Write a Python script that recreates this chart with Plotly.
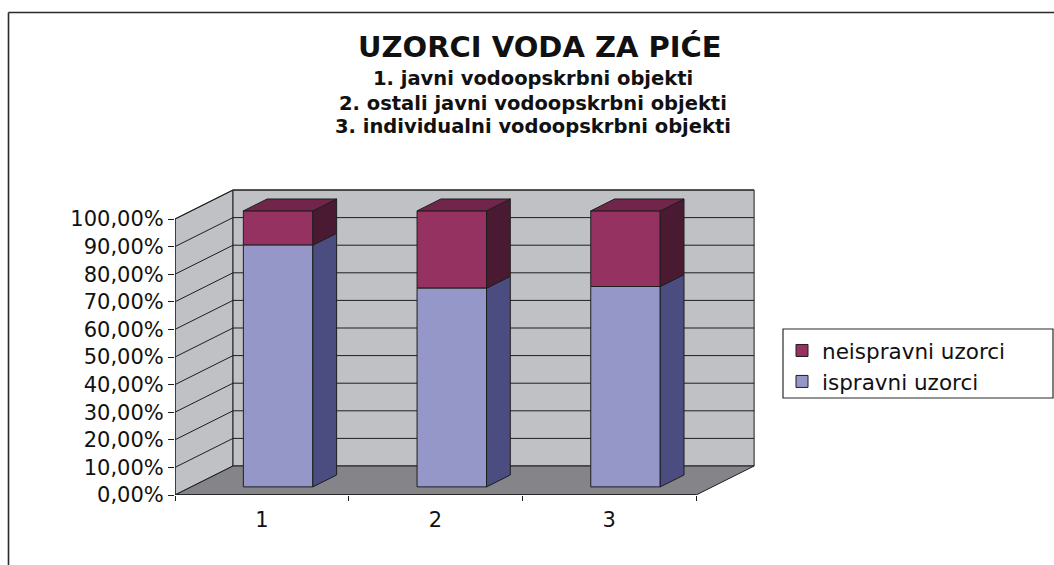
import plotly.graph_objects as go

# ---------------- data ----------------
CATEGORIES = [1, 2, 3]
CATEGORY_LABELS = ["1", "2", "3"]
ISPRAVNI = [87.6, 72.0, 72.6]        # % ispravni uzorci
NEISPRAVNI = [12.4, 28.0, 27.4]      # % neispravni uzorci
SERIES_NAMES = ["ispravni uzorci", "neispravni uzorci"]
Y_TICKS = [0, 10, 20, 30, 40, 50, 60, 70, 80, 90, 100]
Y_TICK_LABELS = ["0,00%", "10,00%", "20,00%", "30,00%", "40,00%", "50,00%",
                 "60,00%", "70,00%", "80,00%", "90,00%", "100,00%"]
TITLE = "UZORCI VODA ZA PIĆE"
SUBTITLES = ["1. javni vodoopskrbni objekti",
             "2. ostali javni vodoopskrbni objekti",
             "3. individualni vodoopskrbni objekti"]

# ---------------- layout constants ----------------
FIG_W, FIG_H = 1054, 565
L, R, T, B = 175, 284, 180, 70
PW, PH = FIG_W - L - R, FIG_H - T - B
KX = 173.7          # px per category unit
KY = 2.76           # px per percent
X0 = min(CATEGORIES) - 0.5
X1 = max(CATEGORIES) + 0.5
XR = [X0, X0 + PW / KX]
YR = [0, PH / KY]
DX = 58 / KX        # full depth offset (category units)
DY = 29 / KY        # full depth offset (percent units)
D_FRONT, D_BACK = 0.28, 0.69
BAR_W = 0.4

FONT = "DejaVu Sans"
INK = "#1e1e1e"
WALL = "#c0c1c5"
FLOOR = "#858589"
C_ISP = "#9697c9"
C_ISP_SIDE = "#4b4d80"
C_NEI = "#963262"
C_NEI_SIDE = "#4a1a32"
C_NEI_TOP = "#71254b"


def pxx(px):
    return (px - L) / PW


def pxy(py):
    return (FIG_H - B - py) / PH


fig = go.Figure()

# ---------------- walls, floor, grid (shapes below traces) ----------------
shapes = []


def poly(pts, fill, lw=1, color=INK):
    path = "M " + " L ".join(f"{x},{y}" for x, y in pts) + " Z"
    shapes.append(dict(type="path", path=path, xref="x", yref="y",
                       fillcolor=fill, line=dict(color=color, width=lw),
                       layer="below"))


def seg(x0, y0, x1, y1, lw=1, color=INK, xref="x", yref="y", layer="below"):
    shapes.append(dict(type="line", x0=x0, y0=y0, x1=x1, y1=y1, xref=xref,
                       yref=yref, line=dict(color=color, width=lw), layer=layer))


ytop = max(Y_TICKS)
poly([(X0, 0), (X0, ytop), (X0 + DX, ytop + DY), (X0 + DX, DY)], WALL)
poly([(X0 + DX, DY), (X0 + DX, ytop + DY), (X1 + DX, ytop + DY), (X1 + DX, DY)], WALL)
poly([(X0, 0), (X1, 0), (X1 + DX, DY), (X0 + DX, DY)], FLOOR)
for v in Y_TICKS[1:]:
    seg(X0, v, X0 + DX, v + DY)
    seg(X0 + DX, v + DY, X1 + DX, v + DY)
seg(X0, 0, X1, 0, lw=1.5)
seg(X0, 0, X0, ytop, lw=1.2)

# outer chart border (top and left)
seg(pxx(8.5), pxy(12.5), pxx(FIG_W), pxy(12.5), lw=1.6, color="#2a2a2a",
    xref="paper", yref="paper", layer="above")
seg(pxx(8.5), pxy(12.5), pxx(8.5), pxy(FIG_H + 2), lw=1.6, color="#2a2a2a",
    xref="paper", yref="paper", layer="above")
# legend frame
shapes.append(dict(type="rect", xref="paper", yref="paper",
                   x0=pxx(783), x1=pxx(1053), y0=pxy(398), y1=pxy(329),
                   line=dict(color="#2a2a2a", width=1.2), layer="above"))

# ---------------- bars ----------------
xs_front = [c + D_FRONT * DX for c in CATEGORIES]
base0 = D_FRONT * DY
dd = D_BACK - D_FRONT

fig.add_trace(go.Bar(
    x=xs_front, y=NEISPRAVNI, base=[base0 + v for v in ISPRAVNI], width=BAR_W,
    name=SERIES_NAMES[1], marker=dict(color=C_NEI, line=dict(color=INK, width=1)),
    hoverinfo="skip"))
fig.add_trace(go.Bar(
    x=xs_front, y=ISPRAVNI, base=[base0] * len(ISPRAVNI), width=BAR_W,
    name=SERIES_NAMES[0], marker=dict(color=C_ISP, line=dict(color=INK, width=1)),
    hoverinfo="skip"))


def side_poly(xc, y0, y1):
    xr = xc + BAR_W / 2
    return ([xr, xr + dd * DX, xr + dd * DX, xr, xr, None],
            [y0, y0 + dd * DY, y1 + dd * DY, y1, y0, None])


def top_poly(xc, yt):
    xl, xr = xc - BAR_W / 2, xc + BAR_W / 2
    return ([xl, xr, xr + dd * DX, xl + dd * DX, xl, None],
            [yt, yt, yt + dd * DY, yt + dd * DY, yt, None])


for vals_lo, vals, col in [([0] * len(ISPRAVNI), ISPRAVNI, C_ISP_SIDE),
                           (ISPRAVNI, NEISPRAVNI, C_NEI_SIDE)]:
    sx, sy = [], []
    for xc, lo, v in zip(xs_front, vals_lo, vals):
        px_, py_ = side_poly(xc, base0 + lo, base0 + lo + v)
        sx += px_
        sy += py_
    fig.add_trace(go.Scatter(x=sx, y=sy, mode="lines", fill="toself",
                             fillcolor=col, line=dict(color=INK, width=1),
                             showlegend=False, hoverinfo="skip"))

tx, ty = [], []
for xc, a, b in zip(xs_front, ISPRAVNI, NEISPRAVNI):
    px_, py_ = top_poly(xc, base0 + a + b)
    tx += px_
    ty += py_
fig.add_trace(go.Scatter(x=tx, y=ty, mode="lines", fill="toself",
                         fillcolor=C_NEI_TOP, line=dict(color=INK, width=1),
                         showlegend=False, hoverinfo="skip"))

# ---------------- titles ----------------
annotations = [dict(text=f"<b>{TITLE}</b>", x=pxx(540), y=pxy(47),
                    xref="paper", yref="paper", showarrow=False,
                    xanchor="center", yanchor="middle",
                    font=dict(family=FONT, size=29, color="#111"))]
for txt, py in zip(SUBTITLES, [78, 103, 127]):
    annotations.append(dict(text=f"<b>{txt}</b>", x=pxx(533), y=pxy(py),
                            xref="paper", yref="paper", showarrow=False,
                            xanchor="center", yanchor="middle",
                            font=dict(family=FONT, size=19.5, color="#111")))

fig.update_layout(
    width=FIG_W, height=FIG_H, template="none",
    margin=dict(l=L, r=R, t=T, b=B, autoexpand=False),
    paper_bgcolor="white", plot_bgcolor="rgba(0,0,0,0)",
    barmode="overlay", showlegend=True,
    shapes=shapes, annotations=annotations,
    font=dict(family=FONT, color=INK),
    legend=dict(x=pxx(782), y=pxy(330), xanchor="left", yanchor="top",
                traceorder="normal",
                bgcolor="rgba(0,0,0,0)", borderwidth=0,
                font=dict(family=FONT, size=21.5, color="#111")),
    xaxis=dict(range=XR, showgrid=False, zeroline=False, showline=False,
               tickvals=CATEGORIES, ticktext=CATEGORY_LABELS, ticks="",
               ticklabelstandoff=10, automargin=False,
               tickfont=dict(family=FONT, size=21, color="#111"),
               minor=dict(tickvals=[c - 0.5 for c in CATEGORIES] + [X1],
                          ticks="outside", ticklen=5, tickcolor=INK, tickwidth=1),
               fixedrange=True),
    yaxis=dict(range=YR, showgrid=False, zeroline=False, showline=False,
               tickvals=Y_TICKS, ticktext=Y_TICK_LABELS, ticks="outside",
               ticklen=6, tickcolor=INK, tickwidth=1, automargin=False,
               tickfont=dict(family=FONT, size=21, color="#111"),
               fixedrange=True),
)

fig.write_html("out.html", config={"displayModeBar": False},
               post_script="document.body.style.margin='0';"
                           "document.body.style.overflow='hidden';")
